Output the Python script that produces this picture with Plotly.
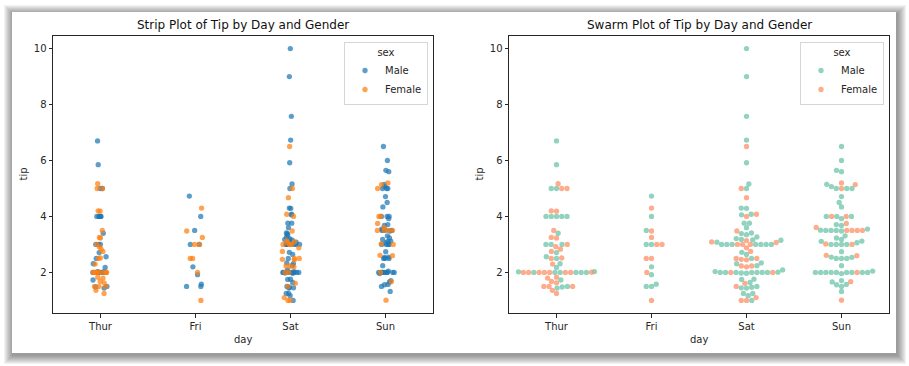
import numpy as np
import plotly.graph_objects as go

# ---------------- data (tips dataset, by day, in data order) ----------------
DAYS = ["Thur", "Fri", "Sat", "Sun"]
Y_TICKS = [2, 4, 6, 8, 10]

thur_tip = [4.00, 3.00, 2.71, 3.00, 3.40, 1.83, 5.00, 2.03, 5.17, 2.00, 4.00, 5.85, 3.00,
            1.50, 1.80, 2.92, 2.31, 1.68, 2.50, 2.00, 2.52, 4.20, 1.48, 2.00, 2.00, 2.18,
            1.50, 2.83, 1.50, 2.00, 3.25, 1.25, 2.00, 2.00, 2.00, 2.75, 3.50, 6.70, 5.00,
            5.00, 2.30, 1.50, 1.36, 1.63, 1.73, 2.00,
            4.19, 2.56, 2.02, 4.00, 1.44, 2.00, 5.00, 2.00, 2.00, 4.00, 2.01, 2.00, 2.50,
            4.00, 3.23, 3.00]
thur_sex = ["M", "M", "M", "M", "M", "F", "M", "M", "F", "M", "M", "M", "M",
            "F", "F", "F", "M", "F", "M", "M", "F", "F", "M", "F", "F", "M",
            "M", "F", "F", "F", "F", "F", "F", "F", "M", "F", "F", "M", "M",
            "F", "F", "F", "F", "F", "M", "M",
            "F", "M", "M", "M", "M", "M", "F", "F", "M", "M", "F", "F", "F",
            "M", "F", "F"]

fri_tip = [3.00, 3.50, 1.00, 4.30, 3.25, 4.73, 4.00, 1.50, 3.00, 1.50, 2.50, 3.00,
           2.20, 3.48, 1.92, 3.00, 1.58, 2.50, 2.00]
fri_sex = ["M", "M", "F", "F", "F", "M", "M", "M", "M", "M", "F", "F",
           "M", "F", "M", "F", "M", "F", "F"]

sat_tip = [3.35, 4.08, 2.75, 2.23, 7.58, 3.18, 2.34, 2.00, 2.00, 4.30, 3.00, 1.45, 2.50,
           3.00, 2.45, 3.27, 3.60, 2.00, 3.07, 2.31, 5.00, 2.24,
           3.00, 1.50, 1.76, 6.73, 3.21, 2.00, 1.98, 3.76, 2.64, 3.15, 2.47, 1.00, 2.01,
           2.09, 1.97, 3.00, 3.14, 5.00, 2.20, 1.25, 3.08,
           2.50, 3.48, 4.08, 1.64, 4.06, 4.29, 3.76, 4.00, 3.00, 1.00,
           1.61, 2.00, 10.00, 3.16,
           3.41, 3.00, 2.03, 2.23, 2.00, 5.16, 9.00, 2.50, 6.50, 1.10, 3.00, 1.50, 1.44, 3.09,
           3.00, 2.72, 2.88, 2.00, 3.00, 3.39, 1.47, 3.00, 1.25, 1.00, 1.17, 4.67, 5.92,
           2.00, 2.00, 1.75]
sat_sex = ["M", "M", "F", "F", "M", "M", "M", "M", "M", "M", "F", "M", "M",
           "F", "F", "M", "M", "M", "F", "M", "M", "M",
           "M", "F", "M", "M", "M", "M", "M", "M", "M", "M", "F", "F", "M",
           "M", "M", "F", "F", "F", "F", "M", "M",
           "F", "F", "F", "M", "M", "M", "M", "F", "M", "F",
           "F", "F", "M", "M",
           "M", "M", "M", "F", "M", "M", "M", "F", "F", "F", "M", "M", "M", "F",
           "M", "M", "F", "M", "M", "M", "M", "M", "M", "M", "M", "F", "M",
           "F", "M", "M"]

sun_tip = [1.01, 1.66, 3.50, 3.31, 3.61, 4.71, 2.00, 3.12, 1.96, 3.23, 1.71, 5.00, 1.57,
           3.00, 3.02, 3.92, 1.67, 3.71, 3.50,
           2.54, 3.06, 1.32, 5.60, 3.00, 5.00, 6.00, 2.05, 3.00, 2.50, 2.60, 5.20, 1.56,
           4.34, 3.51,
           4.00, 2.55, 4.00, 3.50, 5.07,
           2.50, 2.00, 2.74, 2.00, 2.00, 5.14, 5.00, 3.75, 2.61, 2.00, 3.50, 2.50, 2.00,
           2.00, 3.00, 3.48, 2.24, 4.50,
           5.15, 3.18, 4.00, 3.11, 2.00, 2.00, 4.00, 3.55, 3.68, 5.65, 3.50, 6.50, 3.00,
           5.00, 3.50, 2.00, 3.50, 4.00, 1.50]
sun_sex = ["F", "M", "M", "M", "F", "M", "M", "M", "M", "M", "M", "F", "M",
           "M", "F", "M", "F", "M", "F",
           "M", "M", "M", "M", "M", "M", "M", "M", "M", "M", "F", "F", "M",
           "M", "M",
           "M", "M", "F", "F", "M",
           "M", "M", "M", "M", "M", "F", "M", "F", "F", "M", "M", "M", "F",
           "M", "F", "M", "M", "M",
           "M", "M", "M", "M", "M", "M", "F", "M", "M", "M", "M", "M", "M",
           "M", "F", "M", "F", "M", "M"]

DAY_TIPS = [thur_tip, fri_tip, sat_tip, sun_tip]
DAY_SEX = [thur_sex, fri_sex, sat_sex, sun_sex]
SEX_NAMES = {"M": "Male", "F": "Female"}

STRIP_COLORS = {"M": "#1f77b4", "F": "#ff7f0e"}
SWARM_COLORS = {"M": "#66c2a5", "F": "#fc8d62"}

# ---------------- geometry (pixels) ----------------
W, H = 909, 366
L_AX = (53, 433)
R_AX = (509, 889)
AX_TOP, AX_BOT = 36, 313
X_RANGE = [-0.5, 3.5]
Y_RANGE = [0.55, 10.45]
FONT = "DejaVu Sans"
TXT = "#262626"
MSIZE = 5.3

px_per_x = (L_AX[1] - L_AX[0]) / (X_RANGE[1] - X_RANGE[0])
px_per_y = (AX_BOT - AX_TOP) / (Y_RANGE[1] - Y_RANGE[0])


def beeswarm(values, r):
    """seaborn-like beeswarm, in pixel space; returns category-axis offsets (px)."""
    y = np.asarray(values, dtype=float) * px_per_y
    order = np.argsort(y, kind="stable")
    placed = []
    out = np.zeros(len(y))
    for idx in order:
        yi = y[idx]
        neigh = []
        for xj, yj in reversed(placed):
            if yi - yj < 2 * r:
                neigh.append((xj, yj))
            else:
                break
        cands = [0.0]
        left_first = True
        for xj, yj in neigh:
            dy = yi - yj
            dx = np.sqrt(max(4 * r * r - dy * dy, 0.0)) * 1.05
            cands.extend([xj - dx, xj + dx] if left_first else [xj + dx, xj - dx])
            left_first = not left_first
        cands = sorted(cands, key=abs)
        chosen = cands[0]
        for c in cands:
            if all((xj - c) ** 2 + (yj - yi) ** 2 >= 4 * r * r for xj, yj in neigh):
                chosen = c
                break
        placed.append((chosen, yi))
        out[idx] = chosen
    half = 0.4 * px_per_x
    return np.clip(out, -half, half)


fig = go.Figure()

# ---------------- strip plot (library jitter) ----------------
for s in ["M", "F"]:
    xs, ys = [], []
    for d, (tips, sexes) in enumerate(zip(DAY_TIPS, DAY_SEX)):
        for t, sx in zip(tips, sexes):
            if sx == s:
                xs.append(d)
                ys.append(t)
    fig.add_trace(go.Box(
        x=xs, y=ys, boxpoints="all", jitter=1.0, pointpos=0, width=0.22,
        fillcolor="rgba(0,0,0,0)", line=dict(color="rgba(0,0,0,0)", width=0),
        marker=dict(color=STRIP_COLORS[s], size=MSIZE, opacity=0.72),
        showlegend=False, hoveron="points", name=SEX_NAMES[s],
        xaxis="x", yaxis="y"))
for s in ["M", "F"]:
    fig.add_trace(go.Scatter(
        x=[None], y=[None], mode="markers", name=SEX_NAMES[s],
        marker=dict(color=STRIP_COLORS[s], size=MSIZE, opacity=0.72),
        legend="legend", xaxis="x", yaxis="y"))

# ---------------- swarm plot ----------------
sw_x = {"M": [], "F": []}
sw_y = {"M": [], "F": []}
for d, (tips, sexes) in enumerate(zip(DAY_TIPS, DAY_SEX)):
    offs = beeswarm(tips, 2.5)
    for t, sx, o in zip(tips, sexes, offs):
        sw_x[sx].append(d + o / px_per_x)
        sw_y[sx].append(t)
for s in ["M", "F"]:
    fig.add_trace(go.Scatter(
        x=sw_x[s], y=sw_y[s], mode="markers", name=SEX_NAMES[s],
        marker=dict(color=SWARM_COLORS[s], size=MSIZE, opacity=0.72),
        legend="legend2", xaxis="x2", yaxis="y2"))

# ---------------- layout ----------------
axis_common = dict(
    showline=True, mirror=True, linecolor=TXT, linewidth=1,
    ticks="outside", ticklen=3.5, tickwidth=1, tickcolor=TXT,
    showgrid=False, zeroline=False, automargin=False,
    tickfont=dict(family=FONT, size=10, color=TXT))
xcommon = dict(axis_common, range=X_RANGE, tickvals=list(range(len(DAYS))), ticktext=DAYS)
ycommon = dict(axis_common, range=Y_RANGE, tickvals=Y_TICKS)
ydom = [1 - AX_BOT / H, 1 - AX_TOP / H]

legend_common = dict(
    xanchor="right", yanchor="top", y=1 - 42 / H,
    bgcolor="rgba(255,255,255,0.8)", bordercolor="#d6d6d6", borderwidth=1,
    font=dict(family=FONT, size=10, color=TXT),
    title=dict(text="sex", side="top center", font=dict(family=FONT, size=10, color=TXT)),
    itemwidth=30, tracegroupgap=0)

# card with soft shadow
shapes = []
CARD = (12, 12, 896, 353)
for k in range(9, 0, -1):
    shapes.append(dict(type="rect", xref="paper", yref="paper", layer="below",
                       x0=(CARD[0] - k + 1) / W, x1=(CARD[2] + k + 1) / W,
                       y0=1 - (CARD[3] + k + 2) / H, y1=1 - (CARD[1] - k + 2) / H,
                       fillcolor="rgba(0,0,0,0.05)", line=dict(width=0)))
shapes.append(dict(type="rect", xref="paper", yref="paper", layer="below",
                   x0=CARD[0] / W, x1=CARD[2] / W, y0=1 - CARD[3] / H, y1=1 - CARD[1] / H,
                   fillcolor="white", line=dict(width=0)))

annotations = []
for (a, b), title in [(L_AX, "Strip Plot of Tip by Day and Gender"),
                      (R_AX, "Swarm Plot of Tip by Day and Gender")]:
    cx = (a + b) / 2 / W
    annotations.append(dict(text=title, x=cx, y=1 - 25 / H, xref="paper", yref="paper",
                            showarrow=False, xanchor="center", yanchor="middle",
                            font=dict(family=FONT, size=12, color="#111")))
    annotations.append(dict(text="day", x=cx, y=1 - 339 / H, xref="paper", yref="paper",
                            showarrow=False, xanchor="center", yanchor="middle",
                            font=dict(family=FONT, size=10, color=TXT)))
    annotations.append(dict(text="tip", x=(a - 30) / W, y=1 - (AX_TOP + AX_BOT) / 2 / H,
                            xref="paper", yref="paper", textangle=-90,
                            showarrow=False, xanchor="center", yanchor="middle",
                            font=dict(family=FONT, size=10, color=TXT)))

fig.update_layout(
    width=W, height=H, margin=dict(l=0, r=0, t=0, b=0),
    paper_bgcolor="white", plot_bgcolor="white",
    font=dict(family=FONT, color=TXT),
    boxmode="overlay",
    xaxis=dict(xcommon, domain=[L_AX[0] / W, L_AX[1] / W], anchor="y"),
    yaxis=dict(ycommon, domain=ydom, anchor="x"),
    xaxis2=dict(xcommon, domain=[R_AX[0] / W, R_AX[1] / W], anchor="y2"),
    yaxis2=dict(ycommon, domain=ydom, anchor="x2"),
    legend=dict(legend_common, x=(L_AX[1] - 5) / W),
    legend2=dict(legend_common, x=(R_AX[1] - 5) / W),
    shapes=shapes, annotations=annotations,
)

fig.write_html("out.html", config={"displayModeBar": False},
               post_script="document.body.style.margin='0';document.body.style.overflow='hidden';")
